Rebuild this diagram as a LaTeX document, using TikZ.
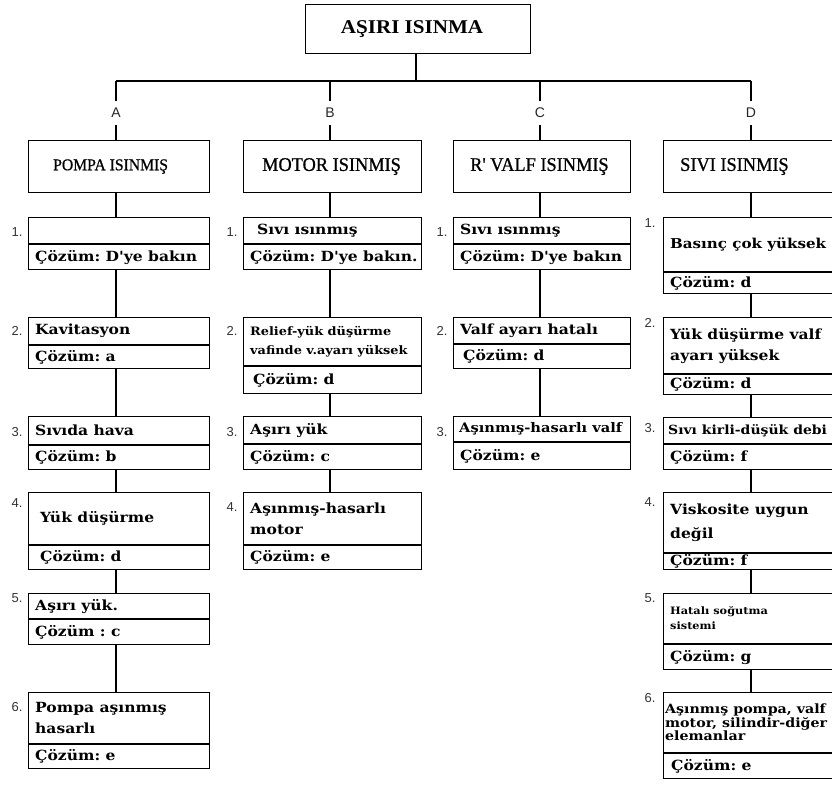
\documentclass[tikz,border=0pt]{standalone}
\usepackage{fontspec}
\setmainfont{DejaVu Serif}
\newfontfamily\boxfont[FakeStretch=1.11]{DejaVu Serif}
\newfontfamily\titlefont[FakeStretch=1.08]{Liberation Serif}
\newfontfamily\catfont[FakeStretch=0.95,FakeBold=0.8]{Liberation Serif}
\newfontfamily\labfont{Liberation Sans}
\newcommand\itemfont{\boxfont\bfseries\fontsize{14}{21}\selectfont}
\newcommand\smallitem{\boxfont\bfseries\fontsize{11.6}{19}\selectfont}
\newcommand\tinyitem{\boxfont\bfseries\fontsize{12.8}{12}\selectfont}
\frenchspacing

\tikzset{
  frame/.style={draw, line width=1.1pt, anchor=north west, inner sep=0pt},
  link/.style={line width=1.1pt},
  itemtext/.style={anchor=west, inner xsep=7pt, inner ysep=0pt, align=left, font=\itemfont},
  cattext/.style={anchor=west, inner ysep=0pt, font=\catfont\fontsize{19.3}{21}\selectfont},
  titlebox/.style={frame, minimum width=225pt, minimum height=49pt,
                   font=\titlefont\bfseries\fontsize{19.5}{20}\selectfont},
  lab/.style={font=\labfont\fontsize{14}{16}\selectfont, text=black!85, inner xsep=2pt, inner ysep=7pt},
  num/.style={font=\labfont\fontsize{13}{15}\selectfont, text=black!80},
  colA/.style={minimum width=181pt},
  colB/.style={minimum width=178pt},
  colC/.style={minimum width=177pt},
  colD/.style={minimum width=177pt},
}

% name, column, left, top, upper height, lower height, text style, cause, solution
\newcommand\causebox[9]{%
  \node[frame,#2,minimum height=#5pt] (#1) at (#3,#4) {};
  \node[frame,#2,minimum height=#6pt] (#1s) at (#1.south west) {};
  \node[itemtext,#7] (#1t) at (#1.west) {#8};
  \node[itemtext] (#1st) at (#1s.west) {#9};
}

\begin{document}
\begin{tikzpicture}[x=1pt,y=-1pt]
\useasboundingbox (0,0) rectangle (832,789);
\clip (0,0) rectangle (832,789);

% main heading and the distribution bar
\node[titlebox] (top) at (305,4) {AŞIRI ISINMA\hspace*{12pt}};
\coordinate (hub) at (416,81);
\coordinate (sA) at (116,81);
\coordinate (sB) at (330,81);
\coordinate (sC) at (540,81);
\coordinate (sD) at (751,81);
\draw[link] (top.south -| hub) -- (hub);
\draw[link] (sA) -- (sD);

% branch letters
\node[lab] (lA) at (116,113) {A};
\node[lab] (lB) at (330,113) {B};
\node[lab] (lC) at (540,113) {C};
\node[lab] (lD) at (751,113) {D};

% category boxes
\node[frame, colA, minimum height=52pt] (catA) at (28,140) {};
\node[frame, colB, minimum height=52pt] (catB) at (243,140) {};
\node[frame, colC, minimum height=52pt] (catC) at (453,140) {};
\node[frame, colD, minimum height=52pt] (catD) at (663,140) {};
\node[cattext, inner xsep=25pt, font=\catfont\fontsize{16.5}{18}\selectfont] (catAt) at (catA.west) {POMPA ISINMIŞ};
\node[cattext, inner xsep=19pt] (catBt) at (catB.west) {MOTOR ISINMIŞ};
\node[cattext, inner xsep=17pt] (catCt) at (catC.west) {R' VALF ISINMIŞ};
\node[cattext, inner xsep=17pt] (catDt) at (catD.west) {SIVI ISINMIŞ};

\foreach \c in {A,B,C,D}{
  \draw[link] (s\c) -- (l\c.north);
  \draw[link] (l\c.south) -- (cat\c.north -| s\c);
}

% column A
\causebox{a1}{colA}{28}{217}{26}{25}{}{}{Çözüm: D'ye bakın}
\causebox{a2}{colA}{28}{317}{27}{23}{}{Kavitasyon}{Çözüm: a}
\causebox{a3}{colA}{28}{416}{28}{24}{}{Sıvıda hava}{Çözüm: b}
\causebox{a4}{colA}{28}{492}{52}{24}{}{\hspace*{5pt}Yük düşürme}{\hspace*{5pt}Çözüm: d}
\causebox{a5}{colA}{28}{593}{25}{25}{}{Aşırı yük.}{Çözüm : c}
\causebox{a6}{colA}{28}{692}{51}{24}{}{Pompa aşınmış\\hasarlı}{Çözüm: e}

% column B
\causebox{b1}{colB}{243}{217}{26}{25}{}{\hspace*{7pt}Sıvı ısınmış}{Çözüm: D'ye bakın.}
\causebox{b2}{colB}{243}{317}{48}{27}{font=\smallitem}{Relief-yük düşürme\\vafinde v.ayarı yüksek}{\hspace*{3pt}Çözüm: d}
\causebox{b3}{colB}{243}{416}{27}{25}{}{Aşırı yük}{Çözüm: c}
\causebox{b4}{colB}{243}{492}{52}{24}{}{Aşınmış-hasarlı\\motor}{Çözüm: e}

% column C
\causebox{c1}{colC}{453}{217}{26}{25}{}{Sıvı ısınmış}{Çözüm: D'ye bakın}
\causebox{c2}{colC}{453}{317}{26}{24}{}{Valf ayarı hatalı}{\hspace*{3pt}Çözüm: d}
\causebox{c3}{colC}{453}{416}{25}{27}{font=\boxfont\bfseries\fontsize{13.2}{16}\selectfont,inner xsep=6pt}{Aşınmış-hasarlı valf}{Çözüm: e}

% column D
\causebox{d1}{colD}{663}{217}{54}{21}{font=\boxfont\bfseries\fontsize{13.6}{16}\selectfont}{Basınç çok yüksek}{Çözüm: d}
\causebox{d2}{colD}{663}{317}{56}{20}{}{Yük düşürme valf\\ayarı yüksek}{Çözüm: d}
\causebox{d3}{colD}{663}{417}{26}{25}{font=\boxfont\bfseries\fontsize{12.6}{16}\selectfont,inner xsep=5pt}{Sıvı kirli-düşük debi}{Çözüm: f}
\causebox{d4}{colD}{663}{492}{60}{16}{font=\boxfont\bfseries\fontsize{14}{24}\selectfont}{Viskosite uygun\\değil}{\raisebox{-1pt}{Çözüm: f}}
\causebox{d5}{colD}{663}{593}{50}{25}{font=\boxfont\bfseries\fontsize{10.2}{15}\selectfont}{Hatalı soğutma\\sistemi}{Çözüm: g}
\causebox{d6}{colD}{663}{692}{60}{25}{font=\tinyitem,inner xsep=2pt}{Aşınmış pompa, valf\\motor, silindir-diğer\\elemanlar}{\hspace*{1pt}Çözüm: e}

% stems inside each column
\draw[link] (catA.south -| sA) -- (a1.north -| sA);
\draw[link] (catB.south -| sB) -- (b1.north -| sB);
\draw[link] (catC.south -| sC) -- (c1.north -| sC);
\draw[link] (catD.south -| sD) -- (d1.north -| sD);
\foreach \p/\n in {a1/a2,a2/a3,a3/a4,a4/a5,a5/a6}
  \draw[link] (\p s.south -| sA) -- (\n.north -| sA);
\foreach \p/\n in {b1/b2,b2/b3,b3/b4}
  \draw[link] (\p s.south -| sB) -- (\n.north -| sB);
\foreach \p/\n in {c1/c2,c2/c3}
  \draw[link] (\p s.south -| sC) -- (\n.north -| sC);
\foreach \p/\n in {d1/d2,d2/d3,d3/d4,d4/d5,d5/d6}
  \draw[link] (\p s.south -| sD) -- (\n.north -| sD);

% item numbers
\foreach \y [count=\i] in {232,331,432,503,598,707}
  \node[num] (nA\i) at (17,\y) {\i.};
\foreach \y [count=\i] in {232,331,432,507}
  \node[num] (nB\i) at (232,\y) {\i.};
\foreach \y [count=\i] in {232,331,432}
  \node[num] (nC\i) at (442,\y) {\i.};
\foreach \y [count=\i] in {223,323,428,502,598,698}
  \node[num] (nD\i) at (650,\y) {\i.};
\end{tikzpicture}
\end{document}
